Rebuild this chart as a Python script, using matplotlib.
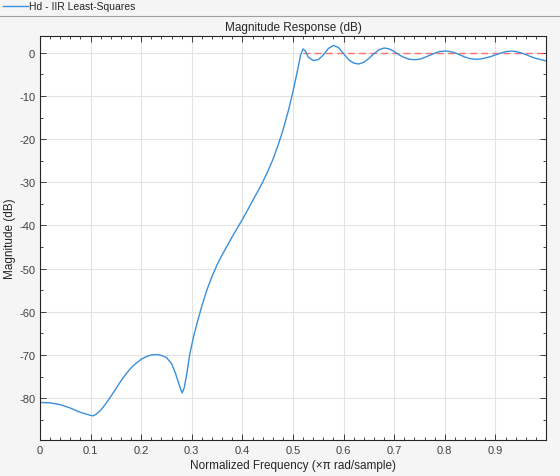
import matplotlib
matplotlib.use('Agg')
import matplotlib.pyplot as plt
from matplotlib.ticker import MultipleLocator

plt.rcParams['font.family'] = ['Liberation Sans', 'DejaVu Sans']
plt.rcParams['axes.unicode_minus'] = False

# magnitude response
freq = [0.00, 0.02, 0.04, 0.06, 0.08, 0.10, 0.105, 0.11, 0.12, 0.13, 0.14,
        0.15, 0.16, 0.17, 0.18, 0.19, 0.20, 0.21, 0.22, 0.23, 0.24,
        0.25, 0.26, 0.267, 0.272, 0.277, 0.281, 0.285, 0.29, 0.296, 0.303, 0.31, 0.32,
        0.33, 0.34, 0.35, 0.36, 0.37, 0.38, 0.39, 0.40, 0.41, 0.42,
        0.43, 0.44, 0.45, 0.46, 0.47, 0.48, 0.49, 0.50, 0.51, 0.515,
        0.52, 0.525, 0.53, 0.54, 0.55, 0.56, 0.57, 0.58, 0.59, 0.60,
        0.61, 0.62, 0.63, 0.64, 0.65, 0.66, 0.67, 0.68, 0.69, 0.70,
        0.71, 0.72, 0.73, 0.74, 0.75, 0.76, 0.77, 0.78, 0.79, 0.80,
        0.81, 0.82, 0.83, 0.84, 0.85, 0.86, 0.87, 0.88, 0.89, 0.90,
        0.91, 0.92, 0.93, 0.94, 0.95, 0.96, 0.97, 0.98, 0.99, 1.00]
mag_db = [-81.0, -81.1, -81.5, -82.3, -83.3, -84.0, -84.1, -83.8, -82.8, -81.3, -79.6,
          -77.8, -76.0, -74.4, -73.0, -71.9, -71.0, -70.4, -70.0, -69.9, -70.1,
          -70.6, -72.0, -74.0, -75.8, -77.6, -78.8, -77.6, -74.5, -69.8, -66.0, -62.8, -58.6,
          -54.9, -51.8, -49.1, -46.8, -44.7, -42.6, -40.6, -38.6, -36.5, -34.3,
          -32.2, -30.0, -27.5, -24.8, -21.6, -18.0, -13.8, -9.0, -3.5, -0.5,
          0.9, 0.3, -1.0, -1.8, -1.6, -0.5, 1.0, 1.7, 1.2, -0.2,
          -1.6, -2.4, -2.6, -2.2, -1.3, -0.2, 0.7, 1.1, 0.9, 0.3,
          -0.5, -1.1, -1.5, -1.6, -1.5, -1.1, -0.6, -0.1, 0.3, 0.4,
          0.3, 0.0, -0.5, -1.0, -1.35, -1.5, -1.45, -1.2, -0.9, -0.5,
          -0.1, 0.25, 0.4, 0.3, 0.0, -0.4, -0.9, -1.3, -1.6, -1.9]

# passband mask
mask_x = [0.52, 1.0]
mask_y = [0, 0]

fig = plt.figure(figsize=(5.6, 4.77), dpi=100, facecolor='#f5f5f5')
ax = fig.add_axes([40/560, 36/477, 506/560, 404.5/477])
ax.set_facecolor('white')

ax.plot(mask_x, mask_y, color='#ff5555', linestyle=(0, (5, 3)), linewidth=1.0, alpha=0.8)
ax.plot(freq, mag_db, color='#3a8fd9', linewidth=1.0)

ax.set_xlim(0, 1)
ax.set_ylim(-89.7, 4.0)
ax.xaxis.set_minor_locator(MultipleLocator(0.02))
ax.yaxis.set_major_locator(MultipleLocator(10))
ax.yaxis.set_minor_locator(MultipleLocator(5))
ax.set_xticks([0, 0.1, 0.2, 0.3, 0.4, 0.5, 0.6, 0.7, 0.8, 0.9])
ax.set_xticklabels(['0', '0.1', '0.2', '0.3', '0.4', '0.5', '0.6', '0.7', '0.8', '0.9'])
ax.tick_params(which='both', direction='in', top=True, right=True,
               colors='#262626', labelcolor='#404040', labelsize=8, width=0.6)
ax.tick_params(which='major', length=4)
ax.tick_params(which='minor', length=2.5)
ax.grid(True, which='major', color='#e3e3e3', linewidth=0.8)
ax.set_axisbelow(True)
for sp in ax.spines.values():
    sp.set_color('#262626')
    sp.set_linewidth(0.8)

ax.set_title('Magnitude Response (dB)', fontsize=8.5, color='#262626', pad=4)
ax.set_xlabel('Normalized Frequency (\u00d7\u03c0 rad/sample)', fontsize=8.5, color='#262626', labelpad=3)
ax.set_ylabel('Magnitude (dB)', fontsize=8.5, color='#262626', labelpad=2)

# legend strip at the top
fig.add_artist(plt.Line2D([0, 1], [1 - 16.5/477, 1 - 16.5/477], color='#a0a0a0', linewidth=0.8))
fig.add_artist(plt.Line2D([3/560, 28/560], [1 - 7/477, 1 - 7/477], color='#3a8fd9', linewidth=1.0))
fig.text(29/560, 1 - 7/477, 'Hd - IIR Least-Squares', fontsize=7.5, color='#262626', va='center', ha='left')

fig.savefig('out.png', dpi=100, facecolor=fig.get_facecolor())
